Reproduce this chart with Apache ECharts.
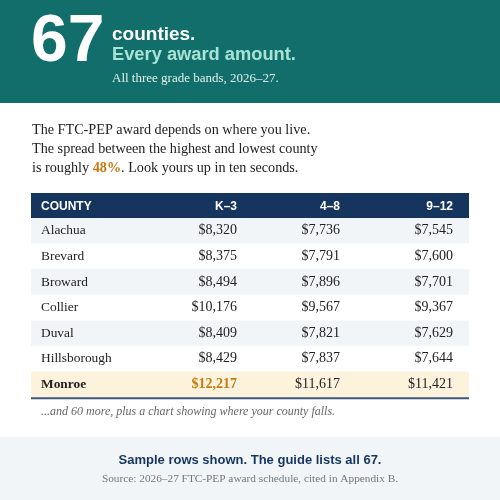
<!DOCTYPE html>
<html><head><meta charset="utf-8">
<script src="https://cdn.jsdelivr.net/npm/echarts@6/dist/echarts.min.js"></script>
<style>html,body{margin:0;padding:0;background:#fff}#c{width:500px;height:500px}</style>
</head><body><div id="c"></div>
<script>
const columns = ['COUNTY', 'K–3', '4–8', '9–12'];
const counties = ['Alachua', 'Brevard', 'Broward', 'Collier', 'Duval', 'Hillsborough', 'Monroe'];
const k3 = [8320, 8375, 8494, 10176, 8409, 8429, 12217];
const g48 = [7736, 7791, 7896, 9567, 7821, 7837, 11617];
const g912 = [7545, 7600, 7701, 9367, 7629, 7644, 11421];
const highlightRow = 'Monroe';

const SERIF = '"Liberation Serif", "DejaVu Serif", serif';
const SANS = '"Liberation Sans", Arial, sans-serif';
const fmt = v => '$' + v.toLocaleString('en-US');

const g = [];
g.push({type:'rect', shape:{x:0,y:0,width:500,height:103}, style:{fill:'#116e6a'}});
g.push({type:'text', x:31, y:43, style:{text:'67', font:'bold 66px '+SANS, fill:'#fff', textVerticalAlign:'middle'}});
g.push({type:'text', x:112, y:35, style:{text:'counties.', font:'bold 19px '+SANS, fill:'#fff', textVerticalAlign:'middle'}});
g.push({type:'text', x:112, y:55, style:{text:'Every award amount.', font:'bold 18.3px '+SANS, fill:'#a8e3d5', textVerticalAlign:'middle'}});
g.push({type:'text', x:112, y:79, style:{text:'All three grade bands, 2026–27.', font:'13px '+SERIF, fill:'#e3f1ee', textVerticalAlign:'middle'}});
const IF = '14.2px '+SERIF;
g.push({type:'text', x:32, y:130, style:{text:'The FTC-PEP award depends on where you live.', font:IF, fill:'#222', textVerticalAlign:'middle'}});
g.push({type:'text', x:32, y:149, style:{text:'The spread between the highest and lowest county', font:IF, fill:'#222', textVerticalAlign:'middle'}});
g.push({type:'text', x:32, y:168, style:{
  text:'is roughly {o|48%}. Look yours up in ten seconds.', font:IF, fill:'#222', textVerticalAlign:'middle',
  rich:{o:{font:'bold 14.2px '+SERIF, fill:'#c47a10', color:'#c47a10'}}}});
const tx = 31, tw = 438, hy = 193, hh = 25, rh = 25.6;
const colRight = [null, 237, 340, 453];
g.push({type:'rect', shape:{x:tx,y:hy,width:tw,height:hh}, style:{fill:'#15355e'}});
columns.forEach((c,i)=>{
  g.push({type:'text', x: i===0?41:colRight[i], y:hy+hh/2+1, style:{text:c, font:'bold 12px '+SANS, fill:'#fff', textAlign:i===0?'left':'right', textVerticalAlign:'middle'}});
});
counties.forEach((name,r)=>{
  const y0 = hy+hh+r*rh;
  const hi = name===highlightRow;
  const bg = hi ? '#fdf3dc' : (r%2===0 ? '#f1f5f8' : '#ffffff');
  g.push({type:'rect', shape:{x:tx,y:y0,width:tw,height:rh}, style:{fill:bg}});
  const cy = y0+rh/2;
  g.push({type:'text', x:41, y:cy, style:{text:name, font:(hi?'bold ':'')+'13.4px '+SERIF, fill:'#222', textVerticalAlign:'middle'}});
  [k3,g48,g912].forEach((arr,ci)=>{
    const gold = hi && ci===0;
    g.push({type:'text', x:colRight[ci+1], y:cy, style:{text:fmt(arr[r]), font:(gold?'bold ':'')+'14px '+SERIF, fill:gold?'#c47a10':'#222', textAlign:'right', textVerticalAlign:'middle'}});
  });
});
const tb = hy+hh+counties.length*rh;
g.push({type:'rect', shape:{x:tx,y:tb,width:tw,height:2}, style:{fill:'#3b5777'}});
g.push({type:'text', x:41, y:412, style:{text:'...and 60 more, plus a chart showing where your county falls.', font:'italic 12px '+SERIF, fill:'#666', textVerticalAlign:'middle'}});
g.push({type:'rect', shape:{x:0,y:437,width:500,height:63}, style:{fill:'#f1f5f8'}});
g.push({type:'text', x:250, y:460, style:{text:'Sample rows shown. The guide lists all 67.', font:'bold 13px '+SANS, fill:'#15355e', textAlign:'center', textVerticalAlign:'middle'}});
g.push({type:'text', x:250, y:479, style:{text:'Source: 2026–27 FTC-PEP award schedule, cited in Appendix B.', font:'11.3px '+SERIF, fill:'#777', textAlign:'center', textVerticalAlign:'middle'}});

const chart = echarts.init(document.getElementById('c'));
chart.setOption({animation:false, graphic:g});
</script></body></html>
